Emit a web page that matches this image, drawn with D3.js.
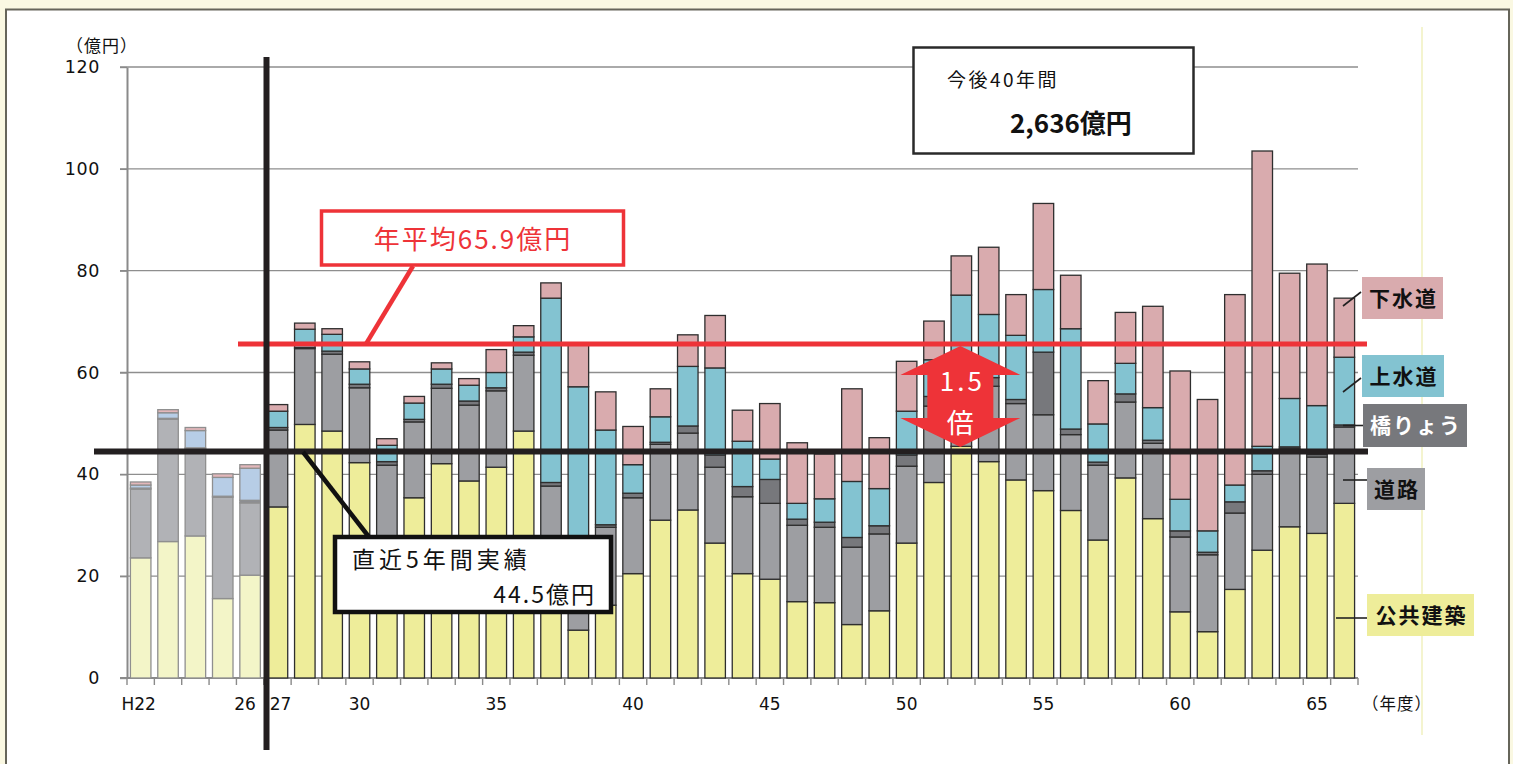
<!DOCTYPE html>
<html><head><meta charset="utf-8">
<script src="https://cdn.jsdelivr.net/npm/d3@7"></script>
<style>
body{margin:0;background:#faf8e2;}
svg{display:block}
</style>
</head><body>
<svg id="chart" width="1513" height="764"></svg>
<script>
// ---------- data ----------
const years = [22,23,24,25,26,27,28,29,30,31,32,33,34,35,36,37,38,39,40,41,42,43,44,45,46,47,48,49,50,51,52,53,54,55,56,57,58,59,60,61,62,63,64,65,66];
const actualYears = [22,23,24,25,26];
const seriesKeys = ["public","road","bridge","water","sewer"];
const seriesNames = ["公共建築","道路","橋りょう","上水道","下水道"];
const publicBldg = [23.6,26.8,27.9,15.6,20.2,33.6,49.8,48.5,42.3,26.8,35.4,42.1,38.7,41.4,48.5,22.7,9.4,14.3,20.5,31.0,33.0,26.5,20.5,19.4,15.0,14.8,10.5,13.2,26.5,38.4,45.5,42.5,38.9,36.8,32.9,27.1,39.3,31.3,13.0,9.1,17.4,25.1,29.7,28.4,34.3];
const road       = [13.5,24.0,17.1,19.9,14.2,15.1,14.9,15.1,14.7,15.0,14.9,14.8,14.9,15.0,14.9,15.0,15.0,15.3,14.9,14.9,15.1,14.9,15.1,14.9,15.0,14.8,15.2,15.1,15.1,15.0,15.0,14.8,15.0,14.9,14.9,14.7,14.9,14.8,14.7,15.1,15.0,14.9,15.4,15.0,15.0];
const bridge     = [0.2,0.2,0.2,0.2,0.5,0.5,0.2,0.6,0.7,0.7,0.5,0.8,0.8,0.6,0.6,0.7,0.5,0.5,0.9,0.4,1.4,2.4,2.0,4.7,1.2,1.0,1.9,1.6,2.2,1.9,1.0,1.7,0.8,12.3,1.1,0.6,1.6,0.6,1.2,0.5,2.2,0.7,0.3,0.5,0.4];
const water      = [0.6,1.1,3.4,3.7,6.3,3.2,3.6,3.3,3.0,3.2,3.2,3.0,3.1,3.0,3.0,36.2,32.3,18.6,5.6,5.0,11.7,17.1,8.9,4.0,3.1,4.6,11.0,7.3,8.6,7.2,13.7,12.4,12.6,12.3,19.7,7.5,6.0,6.4,6.2,4.2,3.3,4.8,9.5,9.6,13.3];
const sewer      = [0.6,0.6,0.6,0.7,0.7,1.3,1.2,1.1,1.4,1.3,1.3,1.2,1.3,4.5,2.2,3.0,8.4,7.5,7.5,5.5,6.2,10.3,6.1,10.9,11.9,8.8,18.2,10.0,9.8,7.6,7.7,13.2,8.0,16.9,10.5,8.5,10.0,19.9,25.2,25.8,37.4,58.0,24.6,27.8,11.6];
const yTicks = [0,20,40,60,80,100,120];
const tickYears  = [22,26,27,30,35,40,45,50,55,60,65];
const tickLabels = ["H22","26","27","30","35","40","45","50","55","60","65"];
const avgFuture = 65.9;   // 年平均
const avgRecent = 44.5;   // 直近5年間実績
const totalText = "2,636億円";
const ratioText = "1.5";

// ---------- styles ----------
const colors = {public:"#eeed9a", road:"#9d9ea2", bridge:"#77787c", water:"#83c3d1", sewer:"#d9abae"};
const faded  = {public:"#f3f5c8", road:"#b1b2b6", bridge:"#8d8e92", water:"#b7cde6", sewer:"#e3b7ba"};
const JP = "'Noto Sans CJK JP','Noto Sans',sans-serif";
const NUM = "'DejaVu Sans',sans-serif";

const svg = d3.select("#chart");
svg.append("rect").attr("width",1513).attr("height",764).attr("fill","#faf8e2");
svg.append("rect").attr("x",6).attr("y",9.5).attr("width",1503).attr("height",770)
  .attr("fill","#fff").attr("stroke","#66655a").attr("stroke-width",2);
svg.append("line").attr("x1",1422).attr("x2",1422).attr("y1",27).attr("y2",735)
  .attr("stroke","#f4f4cf").attr("stroke-width",2);

const x = d3.scaleBand().domain(years).range([127,1358]).paddingInner(0.25).paddingOuter(0.125);
const y = d3.scaleLinear().domain([0,120]).range([678,67]);
const half = (x.step()-x.bandwidth())/2;

// gridlines
svg.append("g").selectAll("line").data(yTicks.filter(v=>v>0)).join("line")
  .attr("x1",120).attr("x2",1358).attr("y1",d=>y(d)).attr("y2",d=>y(d))
  .attr("stroke","#8e8e8e").attr("stroke-width",1.4);

// y axis
const ya = svg.append("g").attr("transform","translate(127,0)")
  .call(d3.axisLeft(y).tickValues(yTicks).tickSize(7).tickPadding(20).tickSizeOuter(0));
ya.select(".domain").attr("stroke","#8a8a8a").attr("stroke-width",2);
ya.selectAll(".tick line").attr("stroke","#8a8a8a").attr("stroke-width",1.4);
ya.selectAll(".tick text").attr("font-family",NUM).attr("font-size",17.5).attr("fill","#111").attr("letter-spacing",0.6);

// x axis baseline & boundary ticks
svg.append("line").attr("x1",120).attr("x2",1358).attr("y1",y(0)).attr("y2",y(0))
  .attr("stroke","#8a8a8a").attr("stroke-width",2);
const bounds = years.map(d=>x(d)-half).concat([x(years[years.length-1])+x.bandwidth()+half]);
svg.append("g").selectAll("line").data(bounds).join("line")
  .attr("x1",d=>d).attr("x2",d=>d).attr("y1",y(0)).attr("y2",y(0)+7)
  .attr("stroke","#8a8a8a").attr("stroke-width",1.4);
const nudge = {26:-5, 27:3, 22:-2};
svg.append("g").selectAll("text").data(tickYears).join("text")
  .attr("x",(d)=>x(d)+x.bandwidth()/2+(nudge[d]||0)).attr("y",710)
  .attr("text-anchor","middle").attr("font-family",NUM).attr("font-size",17).attr("fill","#111")
  .text((d,i)=>tickLabels[i]);

svg.append("text").attr("x",66).attr("y",52).attr("font-family",JP).attr("font-size",17).attr("letter-spacing",1).attr("fill","#111").text("（億円）");
svg.append("text").attr("x",1362).attr("y",710).attr("font-family",JP).attr("font-size",16.5).attr("letter-spacing",1).attr("fill","#111").text("（年度）");

// bars
const table = years.map((yr,i)=>({year:yr, public:publicBldg[i], road:road[i], bridge:bridge[i], water:water[i], sewer:sewer[i]}));
const stacked = d3.stack().keys(seriesKeys)(table);
const barG = svg.append("g");
stacked.forEach(layer=>{
  barG.append("g").selectAll("rect").data(layer).join("rect")
    .attr("x",d=>x(d.data.year)).attr("width",x.bandwidth())
    .attr("y",d=>y(d[1])).attr("height",d=>y(d[0])-y(d[1]))
    .attr("fill",d=>actualYears.includes(d.data.year)?faded[layer.key]:colors[layer.key])
    .attr("stroke",d=>actualYears.includes(d.data.year)?"#8f8f8f":"#2e2e2e")
    .attr("stroke-width",1.3);
});

// red average line
const yR = y(avgFuture)+1.5;
svg.append("line").attr("x1",238).attr("x2",1367).attr("y1",yR).attr("y2",yR)
  .attr("stroke","#ee3338").attr("stroke-width",5);

// 1.5倍 arrow
const cx = x(52)+x.bandwidth()/2-1;
const yTop = y(avgFuture)+3.5, yBot = y(avgRecent)-4.5;
const hw = 60, sw = 33, hl = 29;
const arrowPts = [[cx,yTop],[cx+hw,yTop+hl],[cx+sw,yTop+hl],[cx+sw,yBot-hl],[cx+hw,yBot-hl],[cx,yBot],
  [cx-hw,yBot-hl],[cx-sw,yBot-hl],[cx-sw,yTop+hl],[cx-hw,yTop+hl]];
svg.append("polygon").attr("points",arrowPts.map(p=>p.join(",")).join(" ")).attr("fill","#ee3338");
svg.append("text").attr("x",cx+2).attr("y",391).attr("text-anchor","middle").attr("font-family",JP)
  .attr("font-size",26).attr("fill","#fff").attr("letter-spacing",3).text(ratioText);
svg.append("text").attr("x",cx).attr("y",433).attr("text-anchor","middle").attr("font-family",JP)
  .attr("font-size",27).attr("fill","#fff").text("倍");

// black recent-average line
svg.append("line").attr("x1",94).attr("x2",1368).attr("y1",y(avgRecent)).attr("y2",y(avgRecent))
  .attr("stroke","#231f20").attr("stroke-width",6);
// vertical divider
svg.append("line").attr("x1",266.5).attr("x2",266.5).attr("y1",57).attr("y2",750)
  .attr("stroke","#231f20").attr("stroke-width",6);

// red callout
svg.append("line").attr("x1",413).attr("y1",266).attr("x2",366).attr("y2",yR)
  .attr("stroke","#ee3338").attr("stroke-width",4.5);
svg.append("rect").attr("x",321.5).attr("y",211).attr("width",302).attr("height",54)
  .attr("fill","#fff").attr("stroke","#ee3338").attr("stroke-width",3.5);
svg.append("text").attr("x",473).attr("y",249).attr("text-anchor","middle").attr("font-family",JP)
  .attr("font-size",26).attr("fill","#ee3338").attr("letter-spacing",2).text("年平均"+avgFuture+"億円");

// black callout
svg.append("line").attr("x1",303).attr("y1",452).attr("x2",369).attr("y2",537)
  .attr("stroke","#111").attr("stroke-width",4.5);
svg.append("rect").attr("x",335).attr("y",537).attr("width",276).attr("height",75)
  .attr("fill","#fff").attr("stroke","#111").attr("stroke-width",4.5);
svg.append("text").attr("x",352).attr("y",568).attr("font-family",JP)
  .attr("font-size",23).attr("fill","#111").attr("letter-spacing",4).text("直近5年間実績");
svg.append("text").attr("x",596).attr("y",603).attr("text-anchor","end").attr("font-family",JP)
  .attr("font-size",23).attr("fill","#111").attr("letter-spacing",2).text(avgRecent+"億円");

// total box
svg.append("rect").attr("x",913.5).attr("y",47.5).attr("width",280).attr("height",106)
  .attr("fill","#fff").attr("stroke","#2a2a2a").attr("stroke-width",2.5);
svg.append("text").attr("x",947).attr("y",87).attr("font-family",JP)
  .attr("font-size",19).attr("fill","#111").attr("letter-spacing",2.5).text("今後40年間");
svg.append("text").attr("x",1010).attr("y",133).attr("font-family",JP).attr("font-weight",700)
  .attr("font-size",26).attr("fill","#111").text(totalText);

// legend labels
const legendLayout = {
  sewer:  {bx:1362,by:277,bw:81,bh:42, lx1:1343,ly1:306,lx2:1361,ly2:292, tc:"#111"},
  water:  {bx:1362,by:355,bw:82,bh:42, lx1:1343,ly1:392,lx2:1361,ly2:378, tc:"#111"},
  bridge: {bx:1363,by:404,bw:104,bh:43, lx1:1343,ly1:425.5,lx2:1363,ly2:425.5, tc:"#fff"},
  road:   {bx:1367,by:468,bw:58,bh:42, lx1:1343,ly1:480,lx2:1367,ly2:480, tc:"#111"},
  public: {bx:1367,by:594,bw:107,bh:42, lx1:1336,ly1:618,lx2:1367,ly2:618, tc:"#111"}
};
seriesKeys.forEach((k,i)=>{
  const L = legendLayout[k];
  svg.append("line").attr("x1",L.lx1).attr("y1",L.ly1).attr("x2",L.lx2).attr("y2",L.ly2)
    .attr("stroke","#222").attr("stroke-width",1.6);
  svg.append("rect").attr("x",L.bx).attr("y",L.by).attr("width",L.bw).attr("height",L.bh).attr("fill",colors[k]);
  svg.append("text").attr("x",L.bx+L.bw/2+1).attr("y",L.by+L.bh/2+7.5).attr("text-anchor","middle")
    .attr("font-family",JP).attr("font-weight",700).attr("font-size",21).attr("letter-spacing",2)
    .attr("fill",L.tc).text(seriesNames[i]);
});
</script>
</body></html>
